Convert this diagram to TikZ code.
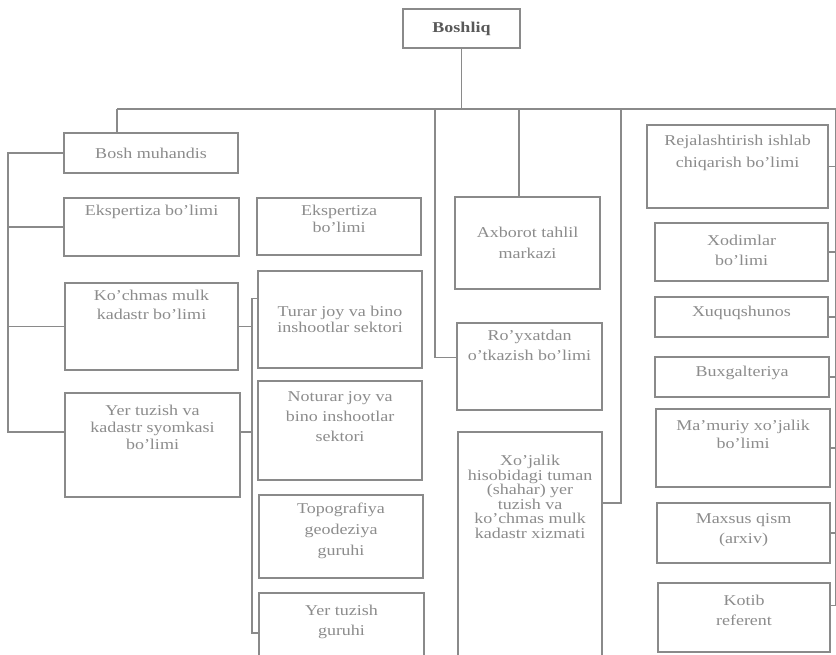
\documentclass[tikz,border=0pt]{standalone}
\usepackage{fontspec}
\setmainfont{Liberation Serif}[FakeStretch=1.2]
\usetikzlibrary{positioning}
\definecolor{linec}{HTML}{8A8A8A}
\definecolor{textc}{HTML}{8C8C8C}

\begin{document}
\begin{tikzpicture}[
            x=1pt, y=-1pt,
            unit/.style={draw=linec,line width=1.2pt,anchor=north west,inner sep=0pt,outer sep=0pt},
            txt/.style={text=textc,align=center,inner sep=0pt,font=\fontsize{15}{19}\selectfont},
            link/.style={draw=linec,line width=1.2pt},
            ]
            \clip (0,0) rectangle (836,654);
            \fill[white] (0,0) rectangle (836,654);

            % head
            \node[unit, minimum width=117, minimum height=39] (boss) at (403,9) {};
            \node[txt, text=black!65, font=\bfseries\fontsize{15}{19}\selectfont] (boss-t) at (boss.center) {Boshliq};

            % left column
            \node[unit, minimum width=174, minimum height=40] (muh) at (64,133) {};
            \node[txt] (muh-t) at (muh.center) {Bosh muhandis};
            \node[unit, minimum width=175, minimum height=58] (eksL) at (64,198) {};
            \node[txt, below=7pt of eksL.north] (eksL-t) {Ekspertiza bo'limi};
            \node[unit, minimum width=173, minimum height=87] (kuch) at (65,283) {};
            \node[txt, below=7pt of kuch.north] (kuch-t) {Ko'chmas mulk\\kadastr bo'limi};
            \node[unit, minimum width=175, minimum height=104] (yerL) at (65,393) {};
            \node[txt, font=\fontsize{15}{17}\selectfont, below=12pt of yerL.north] (yerL-t) {Yer tuzish va\\kadastr syomkasi\\bo'limi};

            % sectors
            \node[unit, minimum width=164, minimum height=57] (eksM) at (257,198) {};
            \node[txt, font=\fontsize{15}{17}\selectfont, below=7pt of eksM.north] (eksM-t) {Ekspertiza\\bo'limi};
            \node[unit, minimum width=164, minimum height=97] (turar) at (258,271) {};
            \node[txt, font=\fontsize{15}{16}\selectfont] (turar-t) at (turar.center) {Turar joy va bino\\inshootlar sektori};
            \node[unit, minimum width=164, minimum height=99] (noturar) at (258,381) {};
            \node[txt, font=\fontsize{15}{20}\selectfont, below=10pt of noturar.north] (noturar-t) {Noturar joy va\\bino inshootlar\\sektori};
            \node[unit, minimum width=164, minimum height=83] (topo) at (259,495) {};
            \node[txt, font=\fontsize{15}{21}\selectfont, below=8pt of topo.north] (topo-t) {Topografiya\\geodeziya\\guruhi};
            \node[unit, minimum width=165, minimum height=80] (yerg) at (259,593) {};
            \node[txt, font=\fontsize{15}{20}\selectfont, below=12pt of yerg.north] (yerg-t) {Yer tuzish\\guruhi};

            % middle
            \node[unit, minimum width=145, minimum height=92] (axb) at (455,197) {};
            \node[txt, font=\fontsize{15}{21}\selectfont] (axb-t) at (axb.center) {Axborot tahlil\\markazi};
            \node[unit, minimum width=145, minimum height=87] (royx) at (457,323) {};
            \node[txt, font=\fontsize{15}{20}\selectfont, below=7pt of royx.north] (royx-t) {Ro'yxatdan\\o'tkazish bo'limi};
            \node[unit, minimum width=144, minimum height=240] (xoj) at (458,432) {};
            \node[txt, font=\fontsize{15}{14.5}\selectfont, below=23pt of xoj.north] (xoj-t) {Xo'jalik\\hisobidagi tuman\\(shahar) yer\\tuzish va\\ko'chmas mulk\\kadastr xizmati};

            % right column
            \node[unit, minimum width=181, minimum height=83] (reja) at (647,125) {};
            \node[txt, font=\fontsize{15}{22}\selectfont, below=10pt of reja.north] (reja-t) {Rejalashtirish ishlab\\chiqarish bo'limi};
            \node[unit, minimum width=173, minimum height=58] (xod) at (655,223) {};
            \node[txt, font=\fontsize{15}{20}\selectfont, below=12pt of xod.north] (xod-t) {Xodimlar\\bo'limi};
            \node[unit, minimum width=173, minimum height=40] (xuq) at (655,297) {};
            \node[txt, below=9pt of xuq.north] (xuq-t) {Xuquqshunos};
            \node[unit, minimum width=174, minimum height=40] (bux) at (655,357) {};
            \node[txt, below=9pt of bux.north] (bux-t) {Buxgalteriya};
            \node[unit, minimum width=174, minimum height=78] (mam) at (656,409) {};
            \node[txt, font=\fontsize{15}{18}\selectfont, below=11pt of mam.north] (mam-t) {Ma'muriy xo'jalik\\bo'limi};
            \node[unit, minimum width=173, minimum height=60] (max) at (657,503) {};
            \node[txt, font=\fontsize{15}{20}\selectfont, below=10pt of max.north] (max-t) {Maxsus qism\\(arxiv)};
            \node[unit, minimum width=172, minimum height=69] (kot) at (658,583) {};
            \node[txt, font=\fontsize{15}{20}\selectfont, below=12pt of kot.north] (kot-t) {Kotib\\referent};

            % buses
            \coordinate (busL) at (117,109);
            \coordinate (busR) at (836,109);
            \coordinate (dropR) at (435,109);
            \coordinate (dropA) at (519,109);
            \coordinate (dropX) at (621,109);
            \coordinate (lb) at (8,0);
            \coordinate (mb) at (252,0);
            \coordinate (royx-in) at ([yshift=9pt]royx.west);
            \coordinate (xoj-in) at ([yshift=-71pt]xoj.north east);
            \coordinate (yerL-in) at ([yshift=13pt]yerL.west);
            \coordinate (yerL-out) at ([yshift=13pt]yerL.east);
            \coordinate (turar-in) at ([yshift=21pt]turar.west);
            \coordinate (kot-out) at ([yshift=12pt]kot.east);

            \draw[link] (boss.south) -- (boss.south |- busL);
            \draw[link] (busL) -- (busR);
            \draw[link] (busL) -- (busL |- muh.north);
            \draw[link] (dropR) |- (royx-in);
            \draw[link] (dropA) -- (dropA |- axb.north);
            \draw[link] (dropX) |- (xoj-in);

            \draw[link] (muh.west) -- (muh.west -| lb) |- (yerL-in);
            \draw[link] (eksL.west) -- (eksL.west -| lb);
            \draw[link] (kuch.west) -- (kuch.west -| lb);

            \draw[link] (turar-in) -- (turar-in -| mb) |- (yerg.west);
            \draw[link] (kuch.east) -- (kuch.east -| mb);
            \draw[link] (yerL-out) -- (yerL-out -| mb);

            \draw[link] (busR) -- (busR |- kot-out);
            \foreach \n in {reja,xod,xuq,bux,mam,max}
                \draw[link] (\n.east) -- (\n.east -| busR);
            \draw[link] (kot-out) -- (kot-out -| busR);
        \end{tikzpicture}
\end{document}
